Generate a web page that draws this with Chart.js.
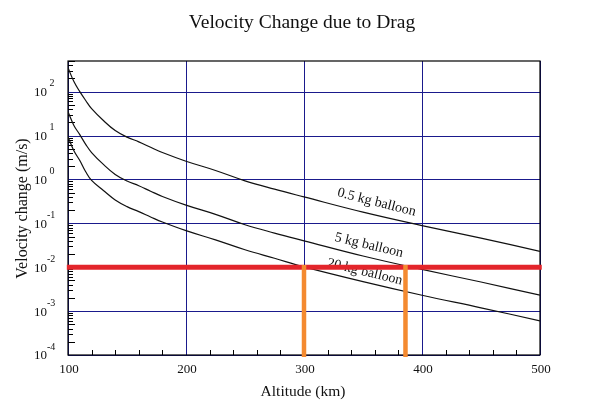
<!DOCTYPE html>
<html>
<head>
<meta charset="utf-8">
<script src="https://cdn.jsdelivr.net/npm/chart.js@4/dist/chart.umd.min.js"></script>
<style>
  html, body { margin: 0; padding: 0; background: #fff; }
  #wrap { width: 590px; height: 404px; }
</style>
</head>
<body>
<div id="wrap"><canvas id="chart" width="590" height="404"></canvas></div>
<script>
// ===== data =====
const altitudes = [100, 105, 110, 115, 120, 130, 140, 150, 160, 170, 180, 200, 225, 250, 275, 300, 350, 400, 450, 500];

// velocity change (m/s)
const balloon05 = [350, 170, 100, 63, 41, 22, 13, 9.2, 7.2, 5.4, 4.1, 2.6, 1.6, 0.93, 0.6, 0.4, 0.18, 0.089, 0.046, 0.023];
const balloon5  = [35, 17, 10.5, 6.3, 4.1, 2.2, 1.3, 0.92, 0.72, 0.54, 0.41, 0.26, 0.16, 0.093, 0.06, 0.04, 0.018, 0.0089, 0.0046, 0.0023];
const balloon20 = [9.3, 4.5, 2.7, 1.5, 0.95, 0.56, 0.34, 0.24, 0.185, 0.14, 0.107, 0.068, 0.042, 0.025, 0.016, 0.0102, 0.0047, 0.0023, 0.00119, 0.0006];

const seriesNames = ['0.5 kg balloon', '5 kg balloon', '20 kg balloon'];

// red threshold and orange markers
const threshold = 0.01;
const thresholdSpan = [99, 501.5];
const markerAltitudes = [300, 386];
const markerBottom = 0.00009;

// axes
const xTicks = [100, 200, 300, 400, 500];
const yExponents = [2, 1, 0, -1, -2, -3, -4];

const FONT = "'Liberation Serif', 'Times New Roman', serif";
const GRID = '#1a1a8c';

function toPoints(ys) {
    return altitudes.map((a, i) => ({ x: a, y: ys[i] }));
}

function curve(label, ys) {
    return {
        label: label,
        data: toPoints(ys),
        borderColor: '#111',
        borderWidth: 1.2,
        pointRadius: 0,
        tension: 0.4,
        fill: false,
        order: 3
    };
}

const datasets = [
    curve(seriesNames[0], balloon05),
    curve(seriesNames[1], balloon5),
    curve(seriesNames[2], balloon20),
    {
        label: 'threshold',
        data: thresholdSpan.map(x => ({ x: x, y: threshold })),
        borderColor: '#e3252b',
        borderWidth: 5,
        pointRadius: 0,
        clip: false,
        order: 2
    }
];
markerAltitudes.forEach(a => {
    datasets.push({
        label: 'marker ' + a,
        data: [{ x: a, y: threshold * 1.12 }, { x: a, y: markerBottom }],
        borderColor: '#f48a30',
        borderWidth: 4.5,
        pointRadius: 0,
        clip: false,
        order: 1
    });
});

// curve labels: altitude / value of the text centre, rotation in degrees
const curveLabels = [
    { text: seriesNames[0], alt: 361.5, val: 0.3, angle: 14.2 },
    { text: seriesNames[1], alt: 355, val: 0.0315, angle: 13.6 },
    { text: seriesNames[2], alt: 351.5, val: 0.0078, angle: 13.6 }
];

// ===== drawing helpers (grid, text, box, minor ticks) =====
const decorations = {
    id: 'decorations',
    beforeDatasetsDraw(chart) {
        const ctx = chart.ctx;
        const a = chart.chartArea;
        const xs = chart.scales.x, ys = chart.scales.y;
        ctx.save();

        // decade grid lines
        ctx.strokeStyle = GRID;
        ctx.lineWidth = 1;
        ctx.beginPath();
        yExponents.forEach(e => {
            const py = Math.round(ys.getPixelForValue(Math.pow(10, e))) + 0.5;
            ctx.moveTo(a.left, py);
            ctx.lineTo(a.right, py);
        });
        ctx.stroke();

        // frame
        ctx.strokeStyle = '#000';
        ctx.lineWidth = 1.2;
        ctx.strokeRect(a.left, a.top, a.right - a.left, a.bottom - a.top);

        // minor ticks on the x axis
        ctx.lineWidth = 1;
        ctx.beginPath();
        for (let v = 120; v < 500; v += 20) {
            if (v % 100 === 0) continue;
            const px = Math.round(xs.getPixelForValue(v)) + 0.5;
            ctx.moveTo(px, a.bottom);
            ctx.lineTo(px, a.bottom - 5);
        }
        // minor ticks on the y axis
        for (let e = -4; e <= 2; e++) {
            for (let m = 2; m <= 9; m++) {
                const v = m * Math.pow(10, e);
                if (v > 500) break;
                const py = Math.round(ys.getPixelForValue(v)) + 0.5;
                const len = (m === 2 || m === 5) ? 7 : 5;
                ctx.moveTo(a.left, py);
                ctx.lineTo(a.left + len, py);
            }
        }
        ctx.stroke();

        // curve labels
        ctx.fillStyle = '#111';
        ctx.font = '14px ' + FONT;
        ctx.textAlign = 'center';
        ctx.textBaseline = 'middle';
        curveLabels.forEach(l => {
            ctx.save();
            ctx.translate(xs.getPixelForValue(l.alt), ys.getPixelForValue(l.val));
            ctx.rotate(l.angle * Math.PI / 180);
            ctx.fillText(l.text, 0, 0);
            ctx.restore();
        });
        ctx.restore();
    },
    afterDraw(chart) {
        const ctx = chart.ctx;
        const xs = chart.scales.x, ys = chart.scales.y;
        ctx.save();
        ctx.fillStyle = '#111';

        // title
        ctx.font = '19.5px ' + FONT;
        ctx.textAlign = 'center';
        ctx.textBaseline = 'alphabetic';
        ctx.fillText('Velocity Change due to Drag', 302, 28);

        // x tick labels
        ctx.font = '13px ' + FONT;
        ctx.textBaseline = 'middle';
        xTicks.forEach(v => ctx.fillText(String(v), xs.getPixelForValue(v) + 1, 369.5));

        // x axis title
        ctx.font = '15.5px ' + FONT;
        ctx.fillText('Altitude (km)', 303, 392);

        // y tick labels: 10 with superscript exponent
        yExponents.forEach(e => {
            const py = ys.getPixelForValue(Math.pow(10, e));
            ctx.font = '13px ' + FONT;
            ctx.textAlign = 'right';
            ctx.fillText('10', 47, py + 1);
            ctx.font = '10px ' + FONT;
            ctx.textAlign = 'left';
            ctx.fillText(String(e), e < 0 ? 47 : 49.5, py - 8);
        });

        // y axis title
        ctx.font = '16px ' + FONT;
        ctx.textAlign = 'center';
        ctx.translate(23, 208.5);
        ctx.rotate(-Math.PI / 2);
        ctx.fillText('Velocity change (m/s)', 0, 0);
        ctx.restore();
    }
};

// ===== chart =====
new Chart(document.getElementById('chart'), {
    type: 'line',
    data: { datasets: datasets },
    options: {
        responsive: false,
        animation: false,
        devicePixelRatio: 1,
        layout: { padding: { left: 0, top: 61, right: 50, bottom: 0 } },
        plugins: {
            legend: { display: false },
            title: { display: false },
            tooltip: { enabled: false }
        },
        scales: {
            x: {
                type: 'linear',
                min: 100,
                max: 500,
                border: { display: false },
                ticks: { display: false, stepSize: 100 },
                grid: {
                    drawTicks: false,
                    lineWidth: 1,
                    color: c => (c.tick && c.tick.value % 100 === 0) ? GRID : 'rgba(0,0,0,0)'
                },
                afterFit: s => { s.height = 49; }
            },
            y: {
                type: 'logarithmic',
                min: 0.0001,
                max: 500,
                border: { display: false },
                ticks: { display: false },
                grid: { display: false },
                afterFit: s => { s.width = 68; }
            }
        }
    },
    plugins: [decorations]
});
</script>
</body>
</html>
